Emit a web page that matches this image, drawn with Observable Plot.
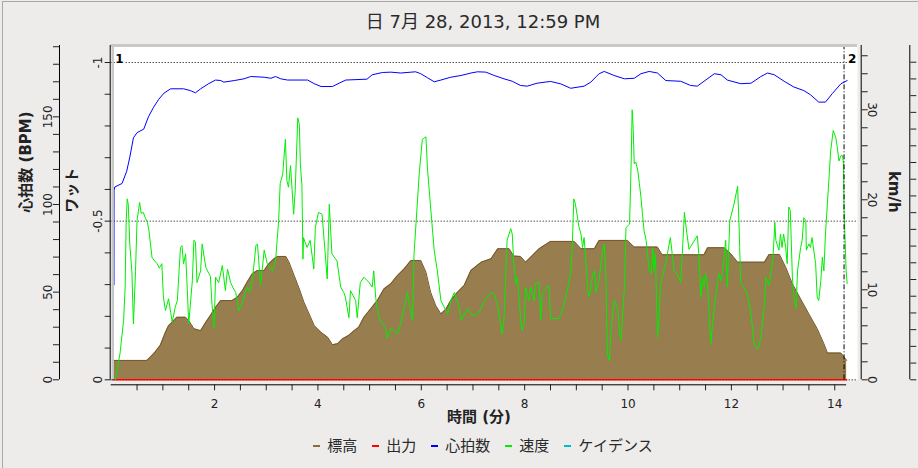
<!DOCTYPE html>
<html><head><meta charset="utf-8">
<script src="https://cdn.jsdelivr.net/npm/d3@7"></script>
<script src="https://cdn.jsdelivr.net/npm/@observablehq/plot@0.6"></script>
<style>
html,body{margin:0;padding:0;background:#edeceb;}
body{width:918px;height:468px;overflow:hidden;position:relative;font-family:'DejaVu Sans','Noto Sans CJK JP',sans-serif;}
#border{position:absolute;left:2px;top:1px;width:1000px;height:500px;border-left:1px solid #a8a8a8;border-top:1px solid #a8a8a8;pointer-events:none;}
#title{width:966px;height:36px;box-sizing:border-box;padding-top:12px;text-align:center;font-size:18px;line-height:20px;color:#2a2a2a;}
#chart{height:400px;}
#legend{width:966px;display:flex;justify-content:center;gap:15px;font-size:15px;line-height:20px;color:#2a2a2a;}
.item{display:flex;align-items:center;}
.sw{display:inline-block;width:7px;height:2px;margin-right:7px;}
</style></head>
<body>
<div id="border"></div>
<div id="title"></div>
<div id="chart"></div>
<div id="legend"></div>
<script>
const titleText = "日 7月 28, 2013, 12:59 PM";
const xLabel = "時間 (分)";
const hrLabel = "心拍数 (BPM)";
const wattLabel = "ワット";
const speedLabel = "km/h";

// axis extents (value at the top of the plot area)
const hrTop = 190.7;
const speedTop = 37.14;
const wattTop = -1.0536;
const cadTop = 100;
const elevTop = 100;
const timeMax = 14.44;

// ticks
const timeTicks = d3.range(0.5, 14.01, 0.5);
const timeLabels = [2, 4, 6, 8, 10, 12, 14];
const hrTicks = d3.range(0, 191, 10);
const hrTickLabels = [0, 50, 100, 150];
const wattTicks = d3.range(0, 11).map(i => -i / 10);
const wattTickLabels = [0, -0.5, -1];
const wattGrid = [0, -0.5, -1];
const speedTicks = d3.range(0, 37, 2);
const speedTickLabels = [0, 10, 20, 30];
const cadTicks = d3.range(0, 100, 5);

const markers = [{t: 0, label: "1"}, {t: 14.18, label: "2"}];

const legendItems = [
  {name: "標高", color: "#8a6b3c"},
  {name: "出力", color: "#ff0000"},
  {name: "心拍数", color: "#0000ff"},
  {name: "速度", color: "#00ee00"},
  {name: "ケイデンス", color: "#00bcc8"}
];

// series: [minutes, value]
const heartRate = [[0.03,0],[0.04,54],[0.045,108],[0.05,54],[0.055,108],[0.07,110],[0.21,112],[0.30,119],[0.36,127],[0.43,138],[0.50,141],[0.63,143],[0.72,150],[0.82,155.5],[0.92,160],[1.02,163.5],[1.15,166],[1.40,166],[1.53,165],[1.63,163.7],[1.73,166],[1.89,169],[2.02,171],[2.12,170.7],[2.18,169.8],[2.38,170.7],[2.57,171.7],[2.70,173],[2.96,172.6],[3.09,172],[3.18,173],[3.28,171.7],[3.41,171],[3.80,171],[3.93,168.9],[4.06,167.3],[4.28,167.3],[4.41,169.2],[4.54,171],[4.95,171.5],[5.05,174],[5.25,175.3],[5.41,175.5],[5.60,175],[5.89,175.7],[5.99,174.6],[6.12,172.3],[6.25,170],[6.38,171],[6.57,172.6],[6.77,173.6],[6.96,175],[7.09,175.7],[7.25,175.5],[7.41,173.6],[7.60,171.7],[7.76,170.3],[7.92,167.9],[8.05,167.5],[8.24,169.2],[8.50,170.2],[8.70,168.8],[8.89,166.3],[9.15,167.5],[9.28,169.8],[9.44,174.6],[9.54,175.9],[9.73,173.6],[9.93,171.7],[10.12,172],[10.25,174.6],[10.41,175.9],[10.57,175],[10.73,170.7],[11.02,170.3],[11.21,167.9],[11.34,167.5],[11.47,170.3],[11.67,174.6],[11.80,174],[11.92,171],[12.18,168.9],[12.38,169.2],[12.57,173],[12.70,175],[12.83,174],[13.02,170.3],[13.21,167],[13.40,165],[13.53,162.6],[13.69,158.4],[13.82,158.4],[13.95,163.2],[14.12,168.9],[14.24,170.7]];

const speed = [[0.08,0],[0.17,2.9],[0.24,6.6],[0.27,10.3],[0.29,17.7],[0.31,20.1],[0.33,19.5],[0.36,15],[0.40,12.1],[0.43,6.2],[0.47,12],[0.50,17.7],[0.55,19.7],[0.58,18.5],[0.62,18.6],[0.66,18],[0.70,17.5],[0.73,16.6],[0.79,13.6],[0.84,13.2],[0.89,12.9],[0.93,12.4],[0.98,12.9],[1.01,9.2],[1.05,7.7],[1.11,9],[1.15,7.5],[1.18,6.4],[1.24,8.1],[1.28,8.8],[1.34,14.7],[1.37,14.9],[1.40,12.9],[1.44,14],[1.47,10.3],[1.50,6.2],[1.57,11],[1.60,15.5],[1.63,15.3],[1.66,10.8],[1.73,12.1],[1.76,15.1],[1.83,12.5],[1.89,11.8],[1.92,11.5],[1.95,8.4],[1.99,5.8],[2.02,11.4],[2.08,10.8],[2.15,12.7],[2.21,9.9],[2.25,12.3],[2.31,10.8],[2.36,10.2],[2.41,9.7],[2.47,7.7],[2.54,8.6],[2.63,10.3],[2.68,9.8],[2.73,11],[2.80,14.9],[2.83,15.1],[2.89,10.5],[2.96,14.4],[3.02,12.9],[3.12,12.1],[3.18,13.2],[3.24,17.7],[3.27,21.8],[3.32,22.9],[3.37,26.7],[3.40,22.1],[3.43,21.4],[3.47,23.8],[3.53,18.4],[3.56,21],[3.61,29.1],[3.64,28.4],[3.66,24],[3.69,21.6],[3.71,13.4],[3.72,15.8],[3.79,14.7],[3.85,15.5],[3.92,12.3],[3.95,16.9],[4.01,18.6],[4.08,18.4],[4.18,11.2],[4.22,19.5],[4.27,14],[4.37,13.2],[4.44,10.3],[4.50,9.7],[4.53,9.2],[4.60,6.9],[4.63,9.9],[4.73,8.8],[4.76,6.9],[4.82,10.8],[4.89,11.4],[4.99,10.8],[5.05,10.3],[5.08,12.1],[5.12,9],[5.18,6.9],[5.25,6.2],[5.31,5.8],[5.34,4.6],[5.41,5.7],[5.47,5.5],[5.54,5.1],[5.60,6.2],[5.67,8.1],[5.73,9.7],[5.76,8.8],[5.83,6.6],[5.86,14],[5.96,22.9],[6.02,26.7],[6.09,27],[6.12,23.4],[6.18,19.2],[6.22,16.4],[6.25,14.4],[6.31,12.1],[6.38,8.8],[6.44,8.1],[6.51,7.3],[6.57,8.8],[6.64,9.7],[6.73,8.1],[6.77,6.6],[6.90,7.9],[6.96,7.3],[7.03,7.1],[7.12,7.5],[7.22,8.8],[7.35,9.7],[7.41,9.5],[7.48,8.2],[7.56,5.1],[7.60,6.6],[7.63,11],[7.66,15.5],[7.73,16.8],[7.76,16.2],[7.79,12.9],[7.83,10.7],[7.86,11.4],[7.92,6.9],[7.95,5.5],[7.99,6.2],[8.02,10.3],[8.08,8.8],[8.12,10.3],[8.18,8.8],[8.21,10.7],[8.28,10.8],[8.31,6.6],[8.34,9.7],[8.47,10.5],[8.50,6.8],[8.66,6.8],[8.73,7.7],[8.83,10.1],[8.89,11.8],[8.92,14.4],[8.95,20.1],[8.98,19.6],[9.05,17],[9.09,16.2],[9.12,14.7],[9.15,15.8],[9.18,13.6],[9.22,9.9],[9.25,9.2],[9.32,11.8],[9.35,12.1],[9.38,9.7],[9.44,11.2],[9.51,14.4],[9.54,15.1],[9.57,11.8],[9.60,2.9],[9.64,2.1],[9.67,5.5],[9.73,8.8],[9.80,7.9],[9.83,5.5],[9.86,4.4],[9.89,6.6],[9.93,10.3],[9.96,16.9],[10.03,17.3],[10.06,24],[10.08,30],[10.10,27.9],[10.12,24],[10.15,24.2],[10.19,23.2],[10.22,21.8],[10.25,20.3],[10.28,18.4],[10.31,16.6],[10.35,15.5],[10.41,12.1],[10.45,11.8],[10.48,14.7],[10.50,12.1],[10.53,14],[10.57,4.7],[10.60,6.6],[10.63,10.7],[10.73,12.9],[10.79,14.9],[10.82,15.8],[10.89,12.1],[10.95,11.8],[11.02,10.8],[11.08,17.3],[11.09,18.6],[11.14,16.2],[11.18,14.5],[11.34,16],[11.37,14],[11.41,9.2],[11.44,11.4],[11.47,10.3],[11.50,11.8],[11.54,10.3],[11.57,7.3],[11.60,4],[11.63,5.8],[11.67,8.1],[11.73,10.7],[11.76,11.8],[11.80,11],[11.83,12.1],[11.89,15.5],[11.92,10.3],[11.97,17.7],[12.05,19.5],[12.12,21.5],[12.15,16.9],[12.16,14.7],[12.18,10.7],[12.24,10.3],[12.31,9.5],[12.38,7.3],[12.44,4],[12.51,3.4],[12.57,4.7],[12.64,8.4],[12.67,11.4],[12.73,10.5],[12.80,13.2],[12.83,16.2],[12.84,17.5],[12.86,15.5],[12.92,14.4],[12.95,16.2],[12.98,14.7],[13.01,16.2],[13.05,14.7],[13.08,12.9],[13.11,19.2],[13.14,18.8],[13.18,11.4],[13.21,9.2],[13.25,7.9],[13.28,12.1],[13.34,14.7],[13.37,15.5],[13.40,18],[13.44,17.7],[13.45,14.4],[13.50,15.1],[13.53,14.7],[13.56,15.8],[13.63,12.9],[13.66,9.2],[13.69,8.8],[13.73,11],[13.76,13.6],[13.79,12.1],[13.82,16.2],[13.89,22.5],[13.92,25.4],[13.97,27.7],[14.02,26.9],[14.05,25.8],[14.08,24.3],[14.12,24.9],[14.15,24.9],[14.17,24],[14.18,18.8],[14.20,15.5],[14.22,12.1],[14.24,10.7]];

const elevation = [[0.03,5.8],[0.69,5.8],[0.76,6.8],[0.85,8.3],[0.95,10.3],[1.05,14.2],[1.11,16.2],[1.18,17.2],[1.27,18.7],[1.44,18.7],[1.50,17.7],[1.60,15.3],[1.73,14.7],[1.83,17.2],[1.92,19.2],[2.02,21.7],[2.12,23.7],[2.34,23.7],[2.44,24.7],[2.54,26.7],[2.63,29.2],[2.73,31.7],[2.83,32.7],[2.96,32.7],[3.05,34.7],[3.15,36.2],[3.22,36.9],[3.38,36.9],[3.44,35.2],[3.54,31.2],[3.64,27.2],[3.73,23.2],[3.83,19.7],[3.93,16.2],[4.06,14.2],[4.19,12.7],[4.28,10.5],[4.38,10.8],[4.48,12.3],[4.60,13.3],[4.70,14.7],[4.79,15.7],[4.89,18.7],[5.02,21.2],[5.15,23.7],[5.28,27.2],[5.41,28.7],[5.54,31.2],[5.67,33.2],[5.80,35.7],[5.99,35.7],[6.09,32.2],[6.18,26.2],[6.28,22.2],[6.38,19.7],[6.48,21.2],[6.57,23.7],[6.70,26.2],[6.83,28.2],[6.96,32.7],[7.16,35.2],[7.35,36.2],[7.48,39.2],[7.70,39.2],[7.79,37.0],[7.92,36.9],[8.02,35.2],[8.15,37.2],[8.28,39.2],[8.50,41.4],[8.96,41.4],[9.09,39.2],[9.35,39.2],[9.44,41.7],[9.99,41.7],[10.12,39.7],[10.57,39.7],[10.66,37.4],[11.47,37.4],[11.54,39.5],[11.86,39.5],[11.99,37.7],[12.12,35.2],[12.64,35.2],[12.73,37.5],[12.93,37.5],[13.05,33.7],[13.18,28.7],[13.34,24.2],[13.50,19.7],[13.66,15.3],[13.79,10.8],[13.86,8.0],[14.12,8.0],[14.18,6.8],[14.23,5.8]];

const power = [[0.03,0],[14.23,0]];
const cadence = [];

// conversions into the shared vertical scale (BPM units)
const yHR = v => v;
const ySpeed = v => v / speedTop * hrTop;
const yWatt = v => v / wattTop * hrTop;
const yCad = v => v / cadTop * hrTop;
const yElev = v => v / elevTop * hrTop;

const labelMap = (labels, conv) => new Map(labels.map(v => [conv(v), String(v)]));
const hrFmt = labelMap(hrTickLabels, yHR);
const wattFmt = labelMap(wattTickLabels, yWatt);
const speedFmt = labelMap(speedTickLabels, ySpeed);

const FONT = "'DejaVu Sans','Noto Sans CJK JP',sans-serif";
const axisEnd = elevation[elevation.length - 1][0];
const xMid = axisEnd / 2;

document.getElementById("title").textContent = titleText;

const bpmDx = -51.7, speedDx = 3.7, cadDx = 52.3;

const chart = Plot.plot({
  width: 918, height: 400,
  marginTop: 9, marginBottom: 56.7, marginLeft: 110.7, marginRight: 61,
  x: {domain: [0, timeMax]},
  y: {domain: [0, hrTop]},
  style: {background: "transparent", fontFamily: FONT, fontSize: "12px", color: "#222"},
  marks: [
    Plot.frame({fill: "white", stroke: null}),
    Plot.ruleY(wattGrid, {y: d => yWatt(d), stroke: "#000", strokeDasharray: "1,2"}),
    Plot.areaY(elevation, {x: d => d[0], y: d => yElev(d[1]), fill: "#987d4f"}),
    Plot.lineY(elevation, {x: d => d[0], y: d => yElev(d[1]), stroke: "#74572a", strokeWidth: 1}),
    Plot.lineY(power, {x: d => d[0], y: d => yWatt(d[1]), stroke: "#ff0000", strokeWidth: 1.6}),
    Plot.lineY(cadence, {x: d => d[0], y: d => yCad(d[1]), stroke: "#00bcc8"}),
    Plot.lineY(speed, {x: d => d[0], y: d => ySpeed(d[1]), stroke: "#00ee00", strokeWidth: 1}),
    Plot.lineY(heartRate, {x: d => d[0], y: d => yHR(d[1]), stroke: "#0000ff", strokeWidth: 1}),
    Plot.ruleX(markers.slice(1), {x: "t", y1: 0, y2: hrTop, stroke: "#000", strokeDasharray: "5,2,1,2"}),
    Plot.ruleY([hrTop], {stroke: "#c8c8c8", strokeWidth: 3}),
    Plot.ruleX([0], {y1: 0, y2: hrTop, stroke: "#c8c8c8", strokeWidth: 2.5, dx: 1.5}),
    Plot.text(markers, {x: "t", y: yWatt(-1), text: "label", textAnchor: "start", lineAnchor: "bottom", dx: 4, fontWeight: "bold", fontSize: 12, fill: "#000", stroke: "white", strokeWidth: 3}),
    // x axis
    Plot.ruleY([0], {x1: 0, x2: axisEnd, dy: 5, stroke: "#000"}),
    Plot.axisX(timeTicks, {anchor: "bottom", dy: 5, tickSize: 6, tickPadding: 9, tickFormat: d => timeLabels.includes(d) ? String(d) : "", label: null, fontSize: 12}),
    Plot.text([xLabel], {text: d => d, x: xMid, frameAnchor: "bottom", dy: 41.7, fontWeight: "bold", fontSize: 15}),
    // heart rate axis
    Plot.ruleX([0], {y1: 0, y2: hrTop, dx: bpmDx, stroke: "#000"}),
    Plot.axisY(hrTicks.map(yHR), {anchor: "left", dx: bpmDx, tickSize: 6, tickPadding: 1, tickRotate: -90, tickFormat: d => hrFmt.get(d) ?? "", label: null, fontSize: 12}),
    Plot.text([hrLabel], {text: d => d, frameAnchor: "left", dx: -85.2, rotate: -90, fontWeight: "bold", fontSize: 15}),
    // watt axis
    Plot.ruleX([0], {y1: 0, y2: hrTop, dx: -1, stroke: "#000"}),
    Plot.axisY(wattTicks.map(yWatt), {anchor: "left", tickSize: 6, tickPadding: 3, tickRotate: -90, tickFormat: d => wattFmt.get(d) ?? "", label: null, fontSize: 12}),
    Plot.text([wattLabel], {text: d => d, frameAnchor: "left", dx: -39, rotate: -90, fontWeight: "bold", fontSize: 15}),
    // speed axis
    Plot.ruleX([timeMax], {y1: 0, y2: hrTop, dx: speedDx, stroke: "#000"}),
    Plot.axisY(speedTicks.map(ySpeed), {anchor: "right", dx: speedDx, tickSize: 6, tickPadding: 1, tickRotate: 90, lineAnchor: "bottom", tickFormat: d => speedFmt.get(d) ?? "", label: null, fontSize: 12}),
    Plot.text([speedLabel], {text: d => d, frameAnchor: "right", dx: 36, rotate: 90, fontWeight: "bold", fontSize: 15}),
    // cadence axis (its labels lie beyond the window edge)
    Plot.ruleX([timeMax], {y1: 0, y2: hrTop, dx: cadDx, stroke: "#000"}),
    Plot.axisY(cadTicks.map(yCad), {anchor: "right", dx: cadDx, tickSize: 6, text: null, label: null})
  ]
});
document.getElementById("chart").appendChild(chart);

const legend = document.getElementById("legend");
for (const it of legendItems) {
  const el = document.createElement("span");
  el.className = "item";
  const sw = document.createElement("span");
  sw.className = "sw";
  sw.style.background = it.color;
  el.appendChild(sw);
  el.appendChild(document.createTextNode(it.name));
  legend.appendChild(el);
}
</script>
</body></html>
